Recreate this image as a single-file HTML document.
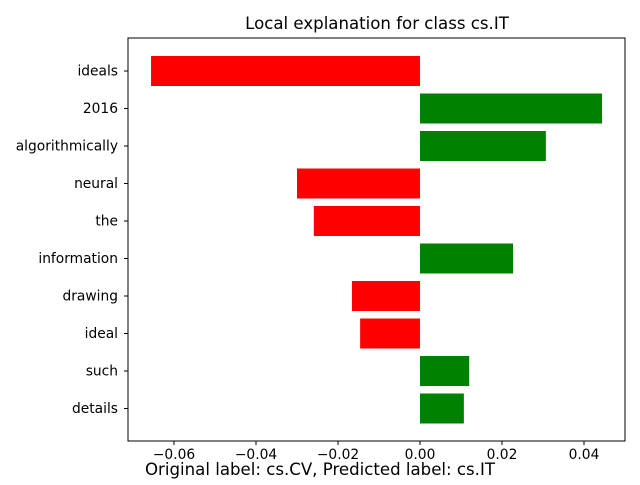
<!DOCTYPE html>
<html><head><meta charset="utf-8"><style>
body{margin:0;background:#fff;}
svg text{font-family:"DejaVu Sans","Liberation Sans",sans-serif;}
</style></head><body>
<svg id="chart" width="640" height="480" xmlns="http://www.w3.org/2000/svg">
<rect width="640" height="480" fill="#fff"/>
<text x="377" y="29" font-size="16.6" text-anchor="middle">Local explanation for class cs.IT</text>
<g id="bars"></g>
<g id="ticks"></g>
<rect x="128" y="38" width="497" height="403" fill="none" stroke="#000" stroke-width="1"/>
<text x="145" y="475" font-size="16.6">Original label: cs.CV, Predicted label: cs.IT</text>
</svg>
<script>
const features = ["ideals","2016","algorithmically","neural","the","information","drawing","ideal","such","details"];
const weights = [-0.0656,0.0444,0.0307,-0.0300,-0.0259,0.0227,-0.0166,-0.0146,0.0120,0.0107];
const xTicks = [-0.06,-0.04,-0.02,0.00,0.02,0.04];
const xTickLabels = ["−0.06","−0.04","−0.02","0.00","0.02","0.04"];
const ns="http://www.w3.org/2000/svg";
function xs(v){return 420+v*4100;}
function ys(i){return 71+37.5*i;}
const bars=document.getElementById('bars'), ticks=document.getElementById('ticks');
features.forEach((f,i)=>{
  const v=weights[i];
  const r=document.createElementNS(ns,'rect');
  r.setAttribute('x',Math.min(xs(0),xs(v)));
  r.setAttribute('y',ys(i)-15);
  r.setAttribute('width',Math.abs(xs(v)-xs(0)));
  r.setAttribute('height',30);
  r.setAttribute('fill',v<0?'#ff0000':'#008000');
  
  
  bars.appendChild(r);
  const t=document.createElementNS(ns,'line');
  t.setAttribute('x1',124);t.setAttribute('x2',128);t.setAttribute('y1',ys(i));t.setAttribute('y2',ys(i));t.setAttribute('stroke','#000');
  ticks.appendChild(t);
  const l=document.createElementNS(ns,'text');
  l.setAttribute('x',118);l.setAttribute('y',ys(i)+4.5);l.setAttribute('font-size','13.8');l.setAttribute('text-anchor','end');
  l.textContent=f;
  
  
  ticks.appendChild(l);
});
xTicks.forEach((v,i)=>{
  const t=document.createElementNS(ns,'line');
  t.setAttribute('x1',xs(v));t.setAttribute('x2',xs(v));t.setAttribute('y1',441);t.setAttribute('y2',445);t.setAttribute('stroke','#000');
  ticks.appendChild(t);
  const l=document.createElementNS(ns,'text');
  l.setAttribute('x',xs(v));l.setAttribute('y',459);l.setAttribute('font-size','13.8');l.setAttribute('text-anchor','middle');
  l.textContent=xTickLabels[i];
  
  
  ticks.appendChild(l);
});
</script>
</body></html>
